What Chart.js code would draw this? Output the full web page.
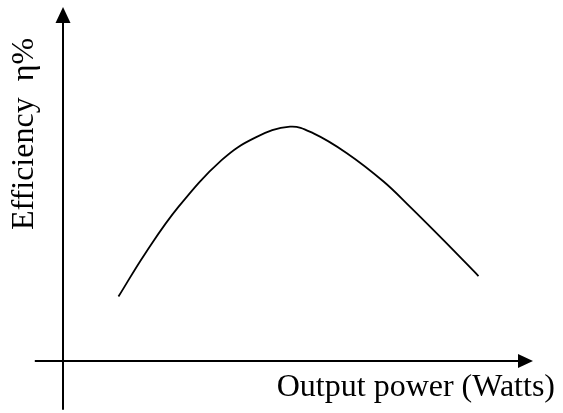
<!DOCTYPE html>
<html>
<head>
<meta charset="utf-8">
<script src="https://cdn.jsdelivr.net/npm/chart.js@4"></script>
<style>
  html, body { margin: 0; padding: 0; background: #fff; }
  #wrap { width: 563px; height: 413px; }
</style>
</head>
<body>
<div id="wrap"><canvas id="g-eff"></canvas></div>
<script>
// curve (arbitrary units, 0..100 on both axes)
const power = [11.8, 17.5, 24.6, 33.8, 40.9, 48.3, 53.3, 60.4, 68.2, 73.8, 80.9, 88.4];
const efficiency = [18.2, 30.4, 43.6, 56.8, 63.1, 66.2, 64.3, 58.7, 50.7, 43.6, 34.2, 24.0];
const xTitle = 'Output power (Watts)';
const yTitle = 'Efficiency  \u03b7%';

// axes with arrow heads + the two labels
const arrowAxes = {
    id: 'arrowAxes',
    afterDraw(chart) {
        const { ctx, chartArea, scales } = chart;
        const x0 = scales.x.getPixelForValue(0);
        const y0 = scales.y.getPixelForValue(0);
        const xStart = scales.x.getPixelForValue(-6);
        const yEnd = scales.y.getPixelForValue(-13.8);
        ctx.save();
        ctx.strokeStyle = '#000';
        ctx.fillStyle = '#000';
        ctx.lineWidth = 2;

        // y axis
        ctx.beginPath();
        ctx.moveTo(x0, yEnd);
        ctx.lineTo(x0, chartArea.top + 14);
        ctx.stroke();
        ctx.beginPath();
        ctx.moveTo(x0, chartArea.top);
        ctx.lineTo(x0 - 7.5, chartArea.top + 16);
        ctx.lineTo(x0 + 7.5, chartArea.top + 16);
        ctx.closePath();
        ctx.fill();

        // x axis
        ctx.beginPath();
        ctx.moveTo(xStart, y0);
        ctx.lineTo(chartArea.right - 14, y0);
        ctx.stroke();
        ctx.beginPath();
        ctx.moveTo(chartArea.right, y0);
        ctx.lineTo(chartArea.right - 15, y0 - 7);
        ctx.lineTo(chartArea.right - 15, y0 + 7);
        ctx.closePath();
        ctx.fill();

        ctx.font = '32px "Liberation Serif", "Times New Roman", serif';
        ctx.textBaseline = 'alphabetic';
        ctx.textAlign = 'right';
        ctx.fillText(xTitle, 555, 396);

        ctx.translate(33, 230);
        ctx.rotate(-Math.PI / 2);
        ctx.textAlign = 'left';
        ctx.fillText(yTitle, 0, 0);
        ctx.restore();
    }
};

const config = {
    type: 'line',
    data: {
        datasets: [{
            data: power.map((p, i) => ({ x: p, y: efficiency[i] })),
            borderColor: '#000',
            borderWidth: 1.8,
            pointRadius: 0,
            fill: false,
            tension: 0.4
        }]
    },
    options: {
        responsive: true,
        maintainAspectRatio: false,
        animation: false,
        layout: { padding: { left: 63, right: 30, top: 7, bottom: 52 } },
        scales: {
            x: { type: 'linear', min: 0, max: 100, display: false },
            y: { type: 'linear', min: 0, max: 100, display: false }
        },
        plugins: {
            legend: { display: false },
            tooltip: { enabled: false }
        }
    },
    plugins: [arrowAxes]
};

new Chart(document.getElementById('g-eff'), config);
</script>
</body>
</html>
